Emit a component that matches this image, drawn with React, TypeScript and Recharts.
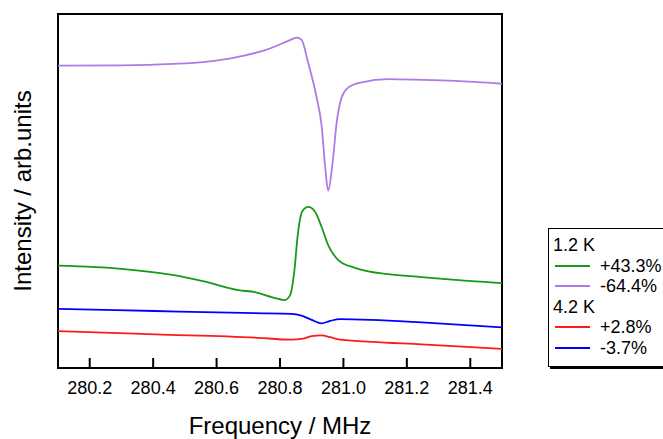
import { LineChart, Line, XAxis, YAxis, ReferenceArea, Legend } from "recharts";

const FONT = '"Liberation Sans", Arial, sans-serif';

const TICKS = [280.2, 280.4, 280.6, 280.8, 281.0, 281.2, 281.4];
const TICK_LABELS = ["280.2", "280.4", "280.6", "280.8", "281.0", "281.2", "281.4"];

// 1.2 K, -64.4%
const F_PURPLE = [280.1, 280.3, 280.46, 280.564, 280.668, 280.763, 280.826, 280.853, 280.868, 280.888, 280.916, 280.931, 280.942, 280.952, 280.965, 280.979, 280.995, 281.015, 281.058, 281.141, 281.247, 281.352, 281.5];
const V_PURPLE = [8.54, 8.55, 8.59, 8.65, 8.79, 9.01, 9.24, 9.33, 9.27, 8.65, 7.62, 6.86, 5.73, 5.01, 5.73, 6.96, 7.66, 7.92, 8.07, 8.16, 8.14, 8.11, 8.03];

// 1.2 K, +43.3%
const F_GREEN = [280.1, 280.3, 280.46, 280.564, 280.669, 280.721, 280.774, 280.814, 280.832, 280.845, 280.856, 280.87, 280.889, 280.91, 280.931, 280.952, 280.984, 281.036, 281.141, 281.247, 281.352, 281.5];
const V_GREEN = [2.89, 2.8, 2.63, 2.44, 2.2, 2.14, 2.0, 1.92, 2.06, 2.72, 3.76, 4.42, 4.55, 4.42, 3.99, 3.47, 3.05, 2.83, 2.65, 2.57, 2.49, 2.4];

// 4.2 K, -3.7%
const F_BLUE = [280.1, 280.406, 280.721, 280.837, 280.868, 280.9, 280.931, 280.958, 280.989, 281.089, 281.247, 281.5];
const V_BLUE = [1.67, 1.61, 1.55, 1.53, 1.48, 1.36, 1.26, 1.33, 1.38, 1.36, 1.29, 1.15];

// 4.2 K, +2.8%
const F_RED = [280.1, 280.406, 280.721, 280.837, 280.868, 280.9, 280.931, 280.958, 280.984, 281.089, 281.247, 281.5];
const V_RED = [1.04, 0.95, 0.86, 0.8, 0.82, 0.9, 0.92, 0.87, 0.81, 0.74, 0.67, 0.54];

const COLORS = {
  green: "#179a17",
  purple: "#b07ae6",
  red: "#ff1a1a",
  blue: "#0000ff",
};

const toPoints = (f: number[], v: number[]) => f.map((x, i) => ({ f: x, v: v[i] }));

const LEGEND_GROUPS = [
  { title: "1.2 K", items: [{ name: "+43.3%", color: COLORS.green }, { name: "-64.4%", color: COLORS.purple }] },
  { title: "4.2 K", items: [{ name: "+2.8%", color: COLORS.red }, { name: "-3.7%", color: COLORS.blue }] },
];

function FreqTick(props: any) {
  const { x, y, index } = props;
  return (
    <g>
      <line x1={x} y1={y} x2={x} y2={y - 10} stroke="#000" strokeWidth={2} />
      <text x={x} y={y + 26} textAnchor="middle" fontSize={18} fontFamily={FONT} fill="#000">
        {TICK_LABELS[index]}
      </text>
    </g>
  );
}

function LegendBox() {
  const row = { height: 20.5, lineHeight: "20.5px", display: "flex", alignItems: "center" } as const;
  return (
    <div
      style={{
        border: "1px solid #000",
        boxShadow: "2px 2px 0 #000",
        background: "#fff",
        padding: "6px 0 8px 4px",
        width: 130,
        fontFamily: FONT,
        fontSize: 18,
        color: "#000",
        boxSizing: "border-box",
      }}
    >
      {LEGEND_GROUPS.map((g) => (
        <div key={g.title}>
          <div style={row}>{g.title}</div>
          {g.items.map((it) => (
            <div key={it.name} style={row}>
              <svg width={35} height={4} style={{ marginLeft: 2, marginRight: 10 }}>
                <line x1={0} y1={2} x2={35} y2={2} stroke={it.color} strokeWidth={1.8} />
              </svg>
              <span>{it.name}</span>
            </div>
          ))}
        </div>
      ))}
    </div>
  );
}

export default function App() {
  return (
    <div style={{ position: "absolute", left: 0, top: 0, width: 663, height: 439, overflow: "hidden", background: "#fff" }}>
      <LineChart width={663} height={439} margin={{ top: 14, right: 161, bottom: 0, left: 0 }}>
        <XAxis
          type="number"
          dataKey="f"
          domain={[280.1, 281.5]}
          ticks={TICKS}
          allowDataOverflow
          height={71}
          axisLine={false}
          tickLine={false}
          tickSize={0}
          tickMargin={0}
          tick={<FreqTick />}
          interval={0}
          label={{
            value: "Frequency / MHz",
            position: "center",
            dy: 22,
            fontSize: 24,
            fontFamily: FONT,
            fill: "#000",
          }}
        />
        <YAxis
          type="number"
          domain={[0, 10]}
          width={58}
          tick={false}
          axisLine={false}
          tickLine={false}
          label={{
            value: "Intensity / arb.units",
            angle: -90,
            position: "center",
            dx: -7,
            fontSize: 24,
            fontFamily: FONT,
            fill: "#000",
          }}
        />
        <Line data={toPoints(F_PURPLE, V_PURPLE)} dataKey="v" type="monotone" stroke={COLORS.purple} strokeWidth={1.8} dot={false} isAnimationActive={false} />
        <Line data={toPoints(F_GREEN, V_GREEN)} dataKey="v" type="monotone" stroke={COLORS.green} strokeWidth={1.8} dot={false} isAnimationActive={false} />
        <Line data={toPoints(F_BLUE, V_BLUE)} dataKey="v" type="monotone" stroke={COLORS.blue} strokeWidth={1.8} dot={false} isAnimationActive={false} />
        <Line data={toPoints(F_RED, V_RED)} dataKey="v" type="monotone" stroke={COLORS.red} strokeWidth={1.8} dot={false} isAnimationActive={false} />
        <ReferenceArea x1={280.1} x2={281.5} y1={0} y2={10} fill="none" stroke="#000" strokeWidth={2} ifOverflow="visible" />
        <Legend
          layout="horizontal"
          verticalAlign="middle"
          align="center"
          content={() => <LegendBox />}
          wrapperStyle={{ left: 548, top: 228, width: 130 }}
        />
      </LineChart>
    </div>
  );
}
